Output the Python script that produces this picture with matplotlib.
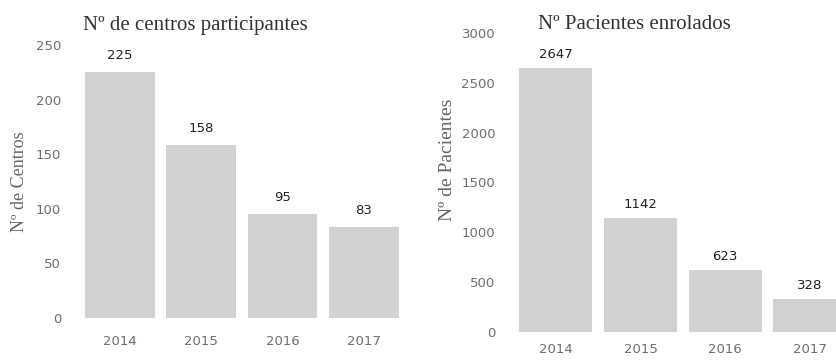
import matplotlib.pyplot as plt

# Data
YEARS = ['2014', '2015', '2016', '2017']
CENTROS = [225, 158, 95, 83]
PACIENTES = [2647, 1142, 623, 328]

BAR_COLOR = '#d2d2d2'
TICK_COLOR = '#6e6e6e'
SERIF = 'Liberation Serif'
SANS = 'DejaVu Sans'

W, H = 837, 360
fig = plt.figure(figsize=(W / 100, H / 100), dpi=100)

# left panel: centros
ax1 = fig.add_axes([0.0848, 0.1167, 0.4082, 0.7583])
x = range(len(YEARS))
ax1.bar(x, CENTROS, width=0.86, color=BAR_COLOR)
ax1.set_xlim(-0.6, 3.6)
ax1.set_ylim(0, 250)
ax1.set_yticks([0, 50, 100, 150, 200, 250])
for i, v in enumerate(CENTROS):
    ax1.annotate(str(v), (i, v), xytext=(0, 12), textcoords='offset points',
                 ha='center', va='center', fontsize=9.5, color='#222222', family=SANS)
ax1.text(0.035, 1.073, 'Nº de centros participantes', transform=ax1.transAxes,
         fontsize=15, family=SERIF, color='#333333', va='center', ha='left')
fig.text(20 / W, 1 - 182 / H, 'Nº de Centros', rotation=90, ha='center', va='center',
         fontsize=13, family=SERIF, color='#666666')

# right panel: pacientes (last bar cut by the page edge)
ax2 = fig.add_axes([0.6033, 0.0778, 0.3967, 0.8306])
ax2.bar(x, PACIENTES, width=0.86, color=BAR_COLOR)
ax2.set_xlim(-0.6, 3.32)
ax2.set_ylim(0, 3000)
ax2.set_yticks([0, 500, 1000, 1500, 2000, 2500, 3000])
for i, v in enumerate(PACIENTES):
    ax2.annotate(str(v), (i, v), xytext=(0, 10), textcoords='offset points',
                 ha='center', va='center', fontsize=9.5, color='#222222', family=SANS)
ax2.text(0.10, 1.027, 'Nº Pacientes enrolados', transform=ax2.transAxes,
         fontsize=15, family=SERIF, color='#333333', va='center', ha='left')
fig.text(447 / W, 1 - 160 / H, 'Nº de Pacientes', rotation=90, ha='center', va='center',
         fontsize=14, family=SERIF, color='#666666')

for ax, xpad in ((ax1, 12), (ax2, 8)):
    ax.set_xticks(list(x))
    ax.set_xticklabels(YEARS)
    for s in ax.spines.values():
        s.set_visible(False)
    ax.tick_params(axis='both', length=0, colors=TICK_COLOR, labelsize=9.5)
    ax.tick_params(axis='y', pad=7)
    ax.tick_params(axis='x', pad=xpad)
    for lbl in ax.get_xticklabels() + ax.get_yticklabels():
        lbl.set_family(SANS)

fig.savefig('out.png', dpi=100)
